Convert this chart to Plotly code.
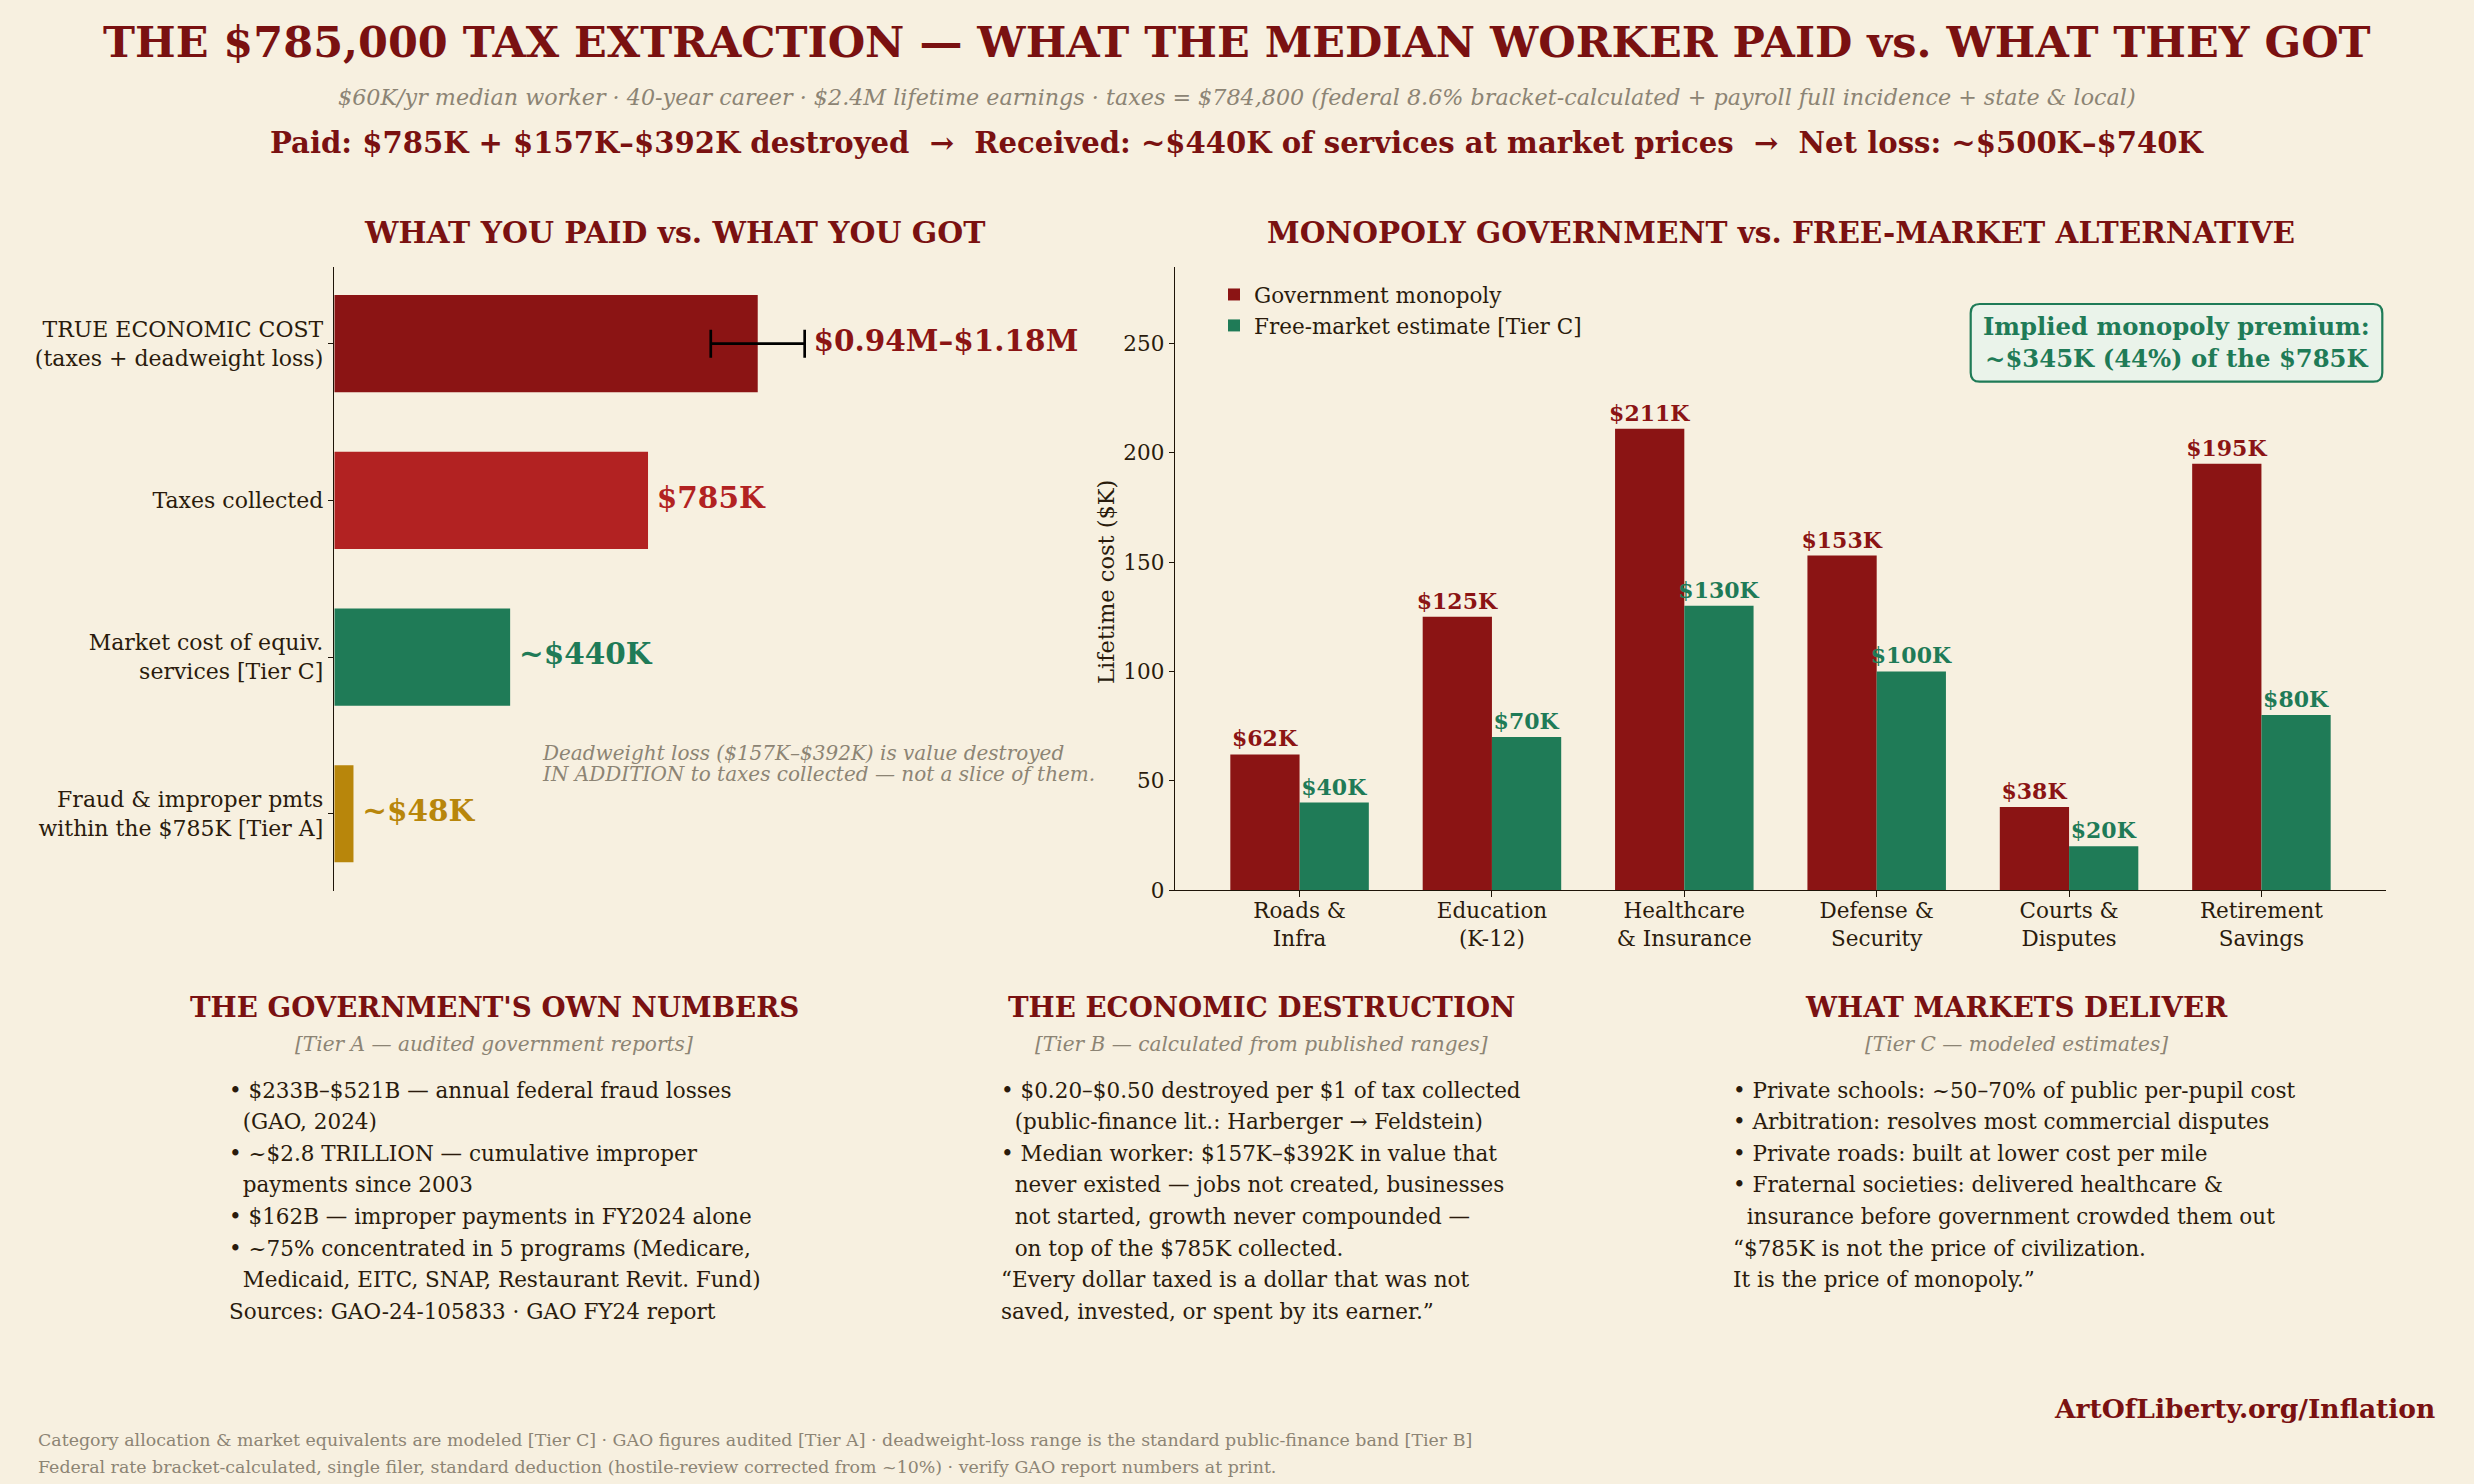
import plotly.graph_objects as go

W, H = 2474, 1484
BG = "#F7F0E0"
TITLE_RED = "#7A1111"
GOV_RED = "#8B1414"
TAX_RED = "#B22222"
GREEN = "#1F7B57"
GOLD = "#B8860B"
INK = "#2A1B0C"
GRAY = "#8C8474"
FONT = "DejaVu Serif"

# ---------------- data ----------------
left_labels = [
    "TRUE ECONOMIC COST<br>(taxes + deadweight loss)",
    "Taxes collected",
    "Market cost of equiv.<br>services [Tier C]",
    "Fraud & improper pmts<br>within the $785K [Tier A]",
]
taxes_collected = 785
deadweight_low = 157
deadweight_high = 392
market_cost = 440
fraud_improper = 48
true_cost_low = taxes_collected + deadweight_low
true_cost_high = taxes_collected + deadweight_high
true_cost_mid = (true_cost_low + true_cost_high) / 2
left_values = [true_cost_mid, taxes_collected, market_cost, fraud_improper]
left_label_anchor = [true_cost_high, taxes_collected, market_cost, fraud_improper]
left_value_text = ["$0.94M–$1.18M", "$785K", "~$440K", "~$48K"]
left_colors = [GOV_RED, TAX_RED, GREEN, GOLD]

categories = [
    "Roads &<br>Infra",
    "Education<br>(K-12)",
    "Healthcare<br>& Insurance",
    "Defense &<br>Security",
    "Courts &<br>Disputes",
    "Retirement<br>Savings",
]
gov_values = [62, 125, 211, 153, 38, 195]
market_values = [40, 70, 130, 100, 20, 80]
y_ticks = [0, 50, 100, 150, 200, 250]

# ---------------- helpers ----------------
def px(x):
    return x / W


def py(y):
    return 1 - y / H


fig = go.Figure()

# ---------------- left panel ----------------
fig.add_trace(go.Bar(
    x=left_values, y=left_labels, orientation="h", width=0.62,
    marker=dict(color=left_colors, line=dict(width=0)),
    xaxis="x", yaxis="y", showlegend=False, hoverinfo="skip",
))
fig.add_trace(go.Scatter(
    x=[true_cost_mid], y=[left_labels[0]], mode="markers",
    marker=dict(size=1, opacity=0),
    error_x=dict(type="data", symmetric=False,
                 array=[true_cost_high - true_cost_mid],
                 arrayminus=[true_cost_mid - true_cost_low],
                 color="black", thickness=2.7, width=14),
    xaxis="x", yaxis="y", showlegend=False, hoverinfo="skip",
))
fig.add_trace(go.Scatter(
    x=[v + 22 for v in left_label_anchor], y=left_labels, mode="text",
    text=left_value_text, textposition="middle right",
    textfont=dict(family=FONT, size=29.5, color=left_colors, weight="bold"),
    xaxis="x", yaxis="y", showlegend=False, hoverinfo="skip", cliponaxis=False,
))

# ---------------- right panel ----------------
fig.add_trace(go.Bar(
    name="Government monopoly", x=categories, y=gov_values,
    width=0.36, offset=-0.36, marker=dict(color=GOV_RED, line=dict(width=0)),
    text=[f"${v}K" for v in gov_values], textposition="outside",
    constraintext="none", cliponaxis=False,
    textfont=dict(family=FONT, size=22, color=GOV_RED, weight="bold"),
    xaxis="x2", yaxis="y2", hoverinfo="skip",
))
fig.add_trace(go.Bar(
    name="Free-market estimate [Tier C]", x=categories, y=market_values,
    width=0.36, offset=0.0, marker=dict(color=GREEN, line=dict(width=0)),
    text=[f"${v}K" for v in market_values], textposition="outside",
    constraintext="none", cliponaxis=False,
    textfont=dict(family=FONT, size=22, color=GREEN, weight="bold"),
    xaxis="x2", yaxis="y2", hoverinfo="skip",
))

SPINE = "#1E1408"
fig.update_layout(
    width=W, height=H, autosize=False,
    margin=dict(l=0, r=0, t=0, b=0),
    paper_bgcolor=BG, plot_bgcolor=BG,
    font=dict(family=FONT, color=INK),
    barmode="overlay",
    xaxis=dict(domain=[px(334.3), px(1013.7)], range=[0, 1700], visible=False,
               anchor="y", fixedrange=True),
    yaxis=dict(domain=[py(890.7), py(266.7)], type="category",
               range=[3.491, -0.491], anchor="x",
               showline=True, linecolor=SPINE, linewidth=1.3,
               ticks="outside", ticklen=5.5, tickwidth=1.3, tickcolor=SPINE,
               tickfont=dict(family=FONT, size=22, color=INK),
               showgrid=False, zeroline=False, automargin=False),
    xaxis2=dict(domain=[px(1175.3), px(2385.7)], type="category",
                range=[-0.646, 5.646], anchor="y2",
                showline=True, linecolor=SPINE, linewidth=1.3,
                ticks="outside", ticklen=5.5, tickwidth=1.3, tickcolor=SPINE,
                tickfont=dict(family=FONT, size=21.5, color=INK),
                ticklabelstandoff=-4,
                showgrid=False, zeroline=False, automargin=False),
    yaxis2=dict(domain=[py(890.0), py(267.3)], range=[0, 211 * 1.35], anchor="x2",
                tickvals=y_ticks, ticktext=[str(v) for v in y_ticks],
                showline=True, linecolor=SPINE, linewidth=1.3,
                ticks="outside", ticklen=5.5, tickwidth=1.3, tickcolor=SPINE,
                tickfont=dict(family=FONT, size=21.5, color=INK),
                showgrid=False, zeroline=False, automargin=False),
    legend=dict(x=px(1214), y=py(274), xanchor="left", yanchor="top",
                bgcolor="rgba(0,0,0,0)", font=dict(family=FONT, size=21.5, color=INK),
                traceorder="normal"),
)


def add_text(text, x, y, size, color, xanchor="center", bold=False, italic=False,
             angle=0):
    fig.add_annotation(
        text=text, x=px(x), y=py(y), xref="paper", yref="paper",
        xanchor=xanchor, yanchor="middle", showarrow=False, textangle=angle,
        font=dict(family=FONT, size=size, color=color,
                  weight="bold" if bold else "normal",
                  style="italic" if italic else "normal"),
    )


# header
add_text("THE $785,000 TAX EXTRACTION — WHAT THE MEDIAN WORKER PAID vs. WHAT THEY GOT",
         W / 2, 42, 43, TITLE_RED, bold=True)
add_text("$60K/yr median worker · 40-year career · $2.4M lifetime earnings · taxes = $784,800 "
         "(federal 8.6% bracket-calculated + payroll full incidence + state & local)",
         W / 2, 97, 22.25, GRAY, italic=True)
add_text("Paid: $785K + $157K–$392K destroyed  →  Received: ~$440K of services at market prices"
         "  →  Net loss: ~$500K–$740K",
         W / 2, 143, 29.1, TITLE_RED, bold=True)

# panel titles
add_text("WHAT YOU PAID vs. WHAT YOU GOT", 674, 232, 29.8, TITLE_RED, bold=True)
add_text("MONOPOLY GOVERNMENT vs. FREE-MARKET ALTERNATIVE", 1780.5, 232, 29.5, TITLE_RED, bold=True)

# deadweight note
add_text("Deadweight loss ($157K–$392K) is value destroyed", 540, 753, 20, GRAY,
         xanchor="left", italic=True)
add_text("IN ADDITION to taxes collected — not a slice of them.", 540, 774.5, 20, GRAY,
         xanchor="left", italic=True)

# y-axis title (right panel)
add_text("Lifetime cost ($K)", 1106, 582, 22.5, INK, angle=-90)

# premium box
bx0, bx1, by0, by1, r = 1970.7, 2382.3, 304.0, 381.7, 9.0
rx, ry = r / W, r / H
X0, X1, Y0, Y1 = px(bx0), px(bx1), py(by1), py(by0)
path = (f"M {X0 + rx},{Y0} L {X1 - rx},{Y0} Q {X1},{Y0} {X1},{Y0 + ry} "
        f"L {X1},{Y1 - ry} Q {X1},{Y1} {X1 - rx},{Y1} L {X0 + rx},{Y1} "
        f"Q {X0},{Y1} {X0},{Y1 - ry} L {X0},{Y0 + ry} Q {X0},{Y0} {X0 + rx},{Y0} Z")
fig.add_shape(type="path", path=path, xref="paper", yref="paper",
              fillcolor="#EAF3EA", line=dict(color=GREEN, width=2.2), layer="above")
add_text("Implied monopoly premium:<br>~$345K (44%) of the $785K", (bx0 + bx1) / 2,
         (by0 + by1) / 2, 24.3, GREEN, bold=True)

# bottom sections
sections = [
    dict(title="THE GOVERNMENT'S OWN NUMBERS", tier="[Tier A — audited government reports]",
         cx=494, left=227,
         lines=["• $233B–$521B — annual federal fraud losses",
                "\u00a0\u00a0(GAO, 2024)",
                "• ~$2.8 TRILLION — cumulative improper",
                "\u00a0\u00a0payments since 2003",
                "• $162B — improper payments in FY2024 alone",
                "• ~75% concentrated in 5 programs (Medicare,",
                "\u00a0\u00a0Medicaid, EITC, SNAP, Restaurant Revit. Fund)",
                "Sources: GAO-24-105833 · GAO FY24 report"]),
    dict(title="THE ECONOMIC DESTRUCTION", tier="[Tier B — calculated from published ranges]",
         cx=1261, left=999,
         lines=["• $0.20–$0.50 destroyed per $1 of tax collected",
                "\u00a0\u00a0(public-finance lit.: Harberger → Feldstein)",
                "• Median worker: $157K–$392K in value that",
                "\u00a0\u00a0never existed — jobs not created, businesses",
                "\u00a0\u00a0not started, growth never compounded —",
                "\u00a0\u00a0on top of the $785K collected.",
                "“Every dollar taxed is a dollar that was not",
                "saved, invested, or spent by its earner.”"]),
    dict(title="WHAT MARKETS DELIVER", tier="[Tier C — modeled estimates]",
         cx=2016, left=1731,
         lines=["• Private schools: ~50–70% of public per-pupil cost",
                "• Arbitration: resolves most commercial disputes",
                "• Private roads: built at lower cost per mile",
                "• Fraternal societies: delivered healthcare &",
                "\u00a0\u00a0insurance before government crowded them out",
                "“$785K is not the price of civilization.",
                "It is the price of monopoly.”"]),
]
for s in sections:
    add_text(s["title"], s["cx"], 1007, 27.7, TITLE_RED, bold=True)
    add_text(s["tier"], s["cx"], 1044, 20.1, GRAY, italic=True)
    for i, line in enumerate(s["lines"]):
        add_text(line, s["left"], 1090 + i * 31.6, 21.5, INK, xanchor="left")

# footer
add_text("ArtOfLiberty.org/Inflation", 2437, 1408, 26.5, TITLE_RED, xanchor="right", bold=True)
add_text("Category allocation & market equivalents are modeled [Tier C] · GAO figures audited [Tier A]"
         " · deadweight-loss range is the standard public-finance band [Tier B]",
         36, 1440, 17.4, GRAY, xanchor="left")
add_text("Federal rate bracket-calculated, single filer, standard deduction (hostile-review corrected"
         " from ~10%) · verify GAO report numbers at print.",
         36, 1467, 17.4, GRAY, xanchor="left")

fig.write_html(
    "out.html", config={"displayModeBar": False},
    post_script=(
        "document.documentElement.style.margin='0';"
        "document.documentElement.style.padding='0';"
        "document.documentElement.style.overflow='hidden';"
        "document.documentElement.style.height='1484px';"
        "document.body.style.margin='0';"
        "document.body.style.padding='0';"
        "document.body.style.overflow='hidden';"
        "document.body.style.height='1484px';"
    ),
)
